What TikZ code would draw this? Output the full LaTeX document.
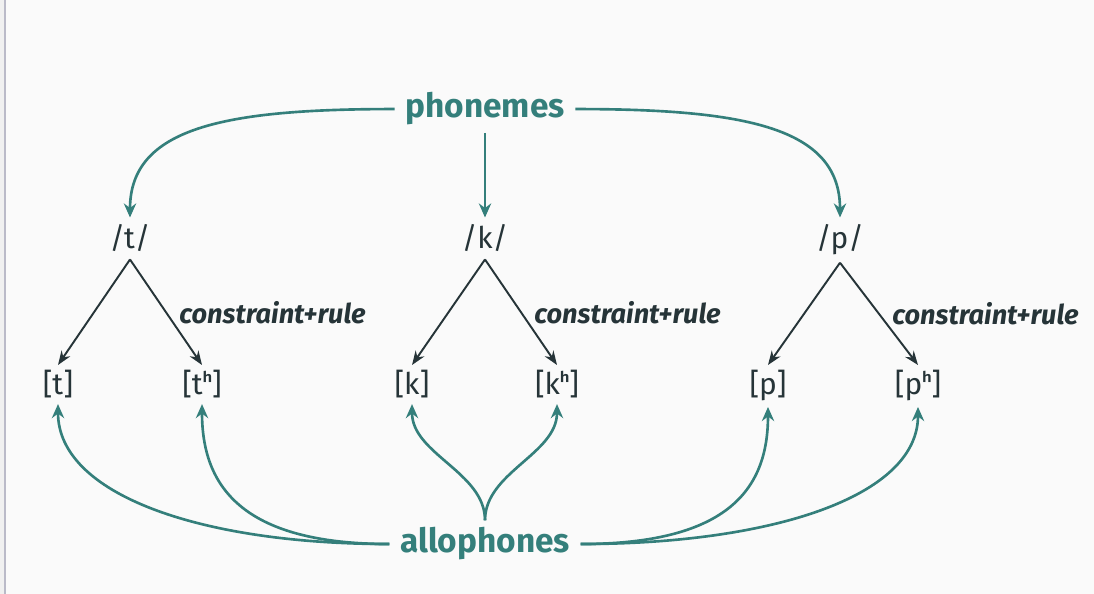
\documentclass[tikz,border=0pt]{standalone}
\usepackage{fontspec}
\setmainfont{Fira Sans}
\usepackage{tikz}
\usetikzlibrary{arrows.meta, positioning}
\definecolor{tealphon}{RGB}{52,127,123}
\definecolor{inkdark}{RGB}{38,52,56}
\definecolor{paper}{RGB}{250,250,250}
\definecolor{sidebar}{RGB}{186,186,200}
\definecolor{sidestrip}{RGB}{240,240,240}

\begin{document}
\begin{tikzpicture}[
  x=0.02cm, y=0.02cm,
  hub/.style={inner xsep=6pt, inner ysep=4pt, text=tealphon,
              font=\fontsize{19}{22}\selectfont\bfseries},
  phon/.style={inner sep=4pt, text=inkdark,
               font=\fontsize{17}{20}\selectfont},
  allo/.style={inner sep=3pt, text=inkdark,
               font=\fontsize{17}{20}\selectfont},
  note/.style={font=\fontsize{15.5}{18}\selectfont\bfseries\itshape,
               text=inkdark, inner sep=2pt},
  link/.style={-{Stealth[length=8pt,width=7pt]}, line width=1.5pt, tealphon},
  branch/.style={-{Stealth[length=8pt,width=6pt]}, line width=1.1pt, inkdark}
]
% Hintergrund
\fill[paper] (0,0) rectangle (1094,594);
\fill[sidestrip] (0,0) rectangle (4,594);
\fill[sidebar] (4,0) rectangle (6,594);
\useasboundingbox (0,0) rectangle (1094,594);

% Knoten
\node[hub, anchor=base] (phon) at (485,476) {phonemes};
\node[hub, anchor=base] (allo) at (485,41) {allophones};

\node[phon, anchor=base] (t) at (130,345) {/t/};
\node[phon, anchor=base] (k) at (485,345) {/k/};
\node[phon, anchor=base] (p) at (840,345) {/p/};

\node[allo, anchor=base] (t1) at (58,199)  {[t]};
\node[allo, anchor=base] (t2) at (202,199) {[tʰ]};
\node[allo, anchor=base] (k1) at (412,199) {[k]};
\node[allo, anchor=base] (k2) at (557,199) {[kʰ]};
\node[allo, anchor=base] (p1) at (768,199) {[p]};
\node[allo, anchor=base] (p2) at (918,199) {[pʰ]};

% Phoneme -> Allophone
\draw[branch] (t.south) -- (t1.north);
\draw[branch] (t.south) -- node[note, right=5pt]{constraint+rule} (t2.north);
\draw[branch] (k.south) -- (k1.north);
\draw[branch] (k.south) -- node[note, right=5pt]{constraint+rule} (k2.north);
\draw[branch] (p.south) -- (p1.north);
\draw[branch] (p.south) -- node[note, right=5pt]{constraint+rule} (p2.north);

% phonemes
\draw[link] (phon.west) .. controls +(-170,0) and +(0,90) .. (t.north);
\draw[link] (phon) -- (k);
\draw[link] (phon.east) .. controls +(170,0) and +(0,90) .. (p.north);

% allophones
\draw[link] (allo.west) .. controls +(-190,0) and +(0,-90) .. (t1.south);
\draw[link] (allo.west) .. controls +(-150,0) and +(0,-80) .. (t2.south);
\draw[link] (allo.north) .. controls +(0,48) and +(0,-50) .. (k1.south);
\draw[link] (allo.north) .. controls +(0,48) and +(0,-50) .. (k2.south);
\draw[link] (allo.east) .. controls +(150,0) and +(0,-80) .. (p1.south);
\draw[link] (allo.east) .. controls +(190,0) and +(0,-90) .. (p2.south);
\end{tikzpicture}
\end{document}
